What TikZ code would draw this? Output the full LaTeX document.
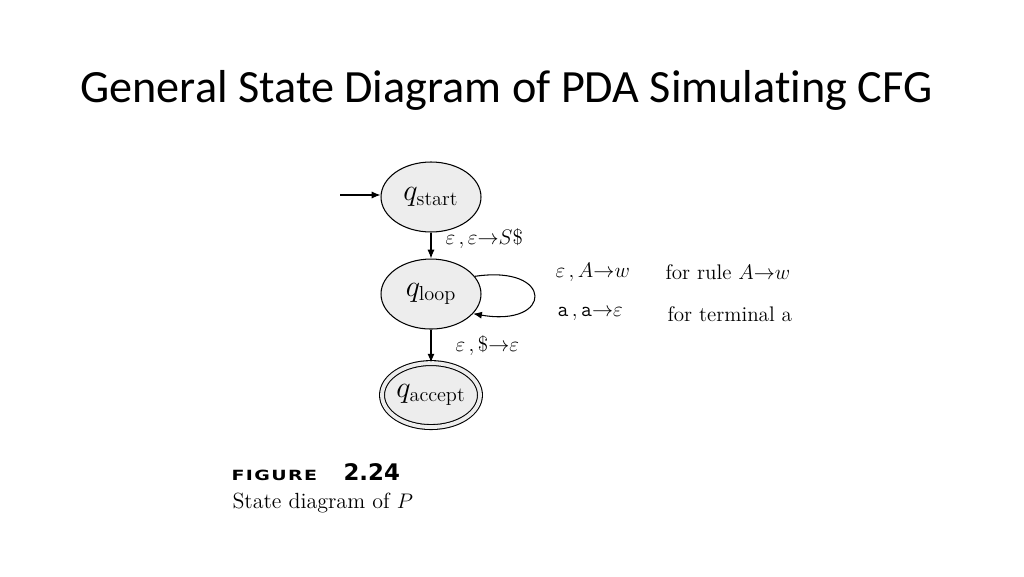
\documentclass[tikz,border=0pt]{standalone}
\usepackage{fontspec}
\usepackage{tikz}
\usetikzlibrary{positioning,arrows.meta,shapes.geometric}
\newfontfamily\titlefont[Ligatures=NoCommon]{Carlito}
\newfontfamily\figfont[FakeStretch=1.35,LetterSpace=10]{DejaVu Sans}
\newfontfamily\numfont{DejaVu Sans}
\tikzstyle{state}=[ellipse,draw,fill=black!7,line width=0.6pt,minimum width=2cm,minimum height=1.4cm,inner sep=0pt,font=\fontsize{16.5}{19}\selectfont]
\tikzstyle{lbl}=[font=\fontsize{12}{14}\selectfont,inner sep=0pt,anchor=west]
\tikzstyle{txt}=[inner sep=0pt,anchor=base west]

\begin{document}
\begin{tikzpicture}[x=0.02cm,y=0.02cm,>={Latex[length=5pt,width=4pt]},line width=0.6pt]
  \useasboundingbox (0,0) rectangle (1024,576);
  \node[txt,font=\titlefont\fontsize{26.3}{31}\selectfont] (title) at (80,474) {General State Diagram of PDA Simulating CFG};

  \node[state] (start) at (431,379) {$q_{\mathrm{start}}$};
  \node[state, below=0.52cm of start] (loop) {$q_{\mathrm{loop}}$};
  \node[state, double, double=black!7, double distance=2.2pt, minimum width=1.9cm, minimum height=1.28cm, below=0.66cm of loop] (accept) {$q_{\mathrm{accept}}$};

  \coordinate (in) at (340,381);
  \draw[->] (in) -- (in -| start.west);
  \draw[->] (start) -- node[lbl, pos=0.23, xshift=0.28cm] (l1) {$\varepsilon\,,\varepsilon{\to}S\$$} (loop);
  \draw[->] (loop.22) .. controls +(80,12) and +(80,-14) .. (loop.-25);
  \draw[->] (loop) -- node[lbl, pos=0.5, xshift=0.48cm] (l2) {$\varepsilon\,,\${\to}\varepsilon$} (accept);

  \node[lbl] (r1) at (555,304) {$\varepsilon\,,A{\to}w$};
  \node[lbl] (r2) at (557,262) {$\mathtt{a}\,,\mathtt{a}{\to}\varepsilon$};
  \node[lbl] (r1t) at (665,304) {for rule $A{\to}w$};
  \node[lbl] (r2t) at (667,262) {for terminal a};

  \node[txt,font=\figfont\bfseries\fontsize{8}{10}\selectfont] (fig) at (231,96) {FIGURE};
  \node[txt,font=\numfont\bfseries\fontsize{13}{15}\selectfont] (num) at (343,96) {2.24};
  \node[txt,font=\fontsize{12.5}{15}\selectfont] (cap) at (232,68) {State diagram of $P$};
\end{tikzpicture}
\end{document}
